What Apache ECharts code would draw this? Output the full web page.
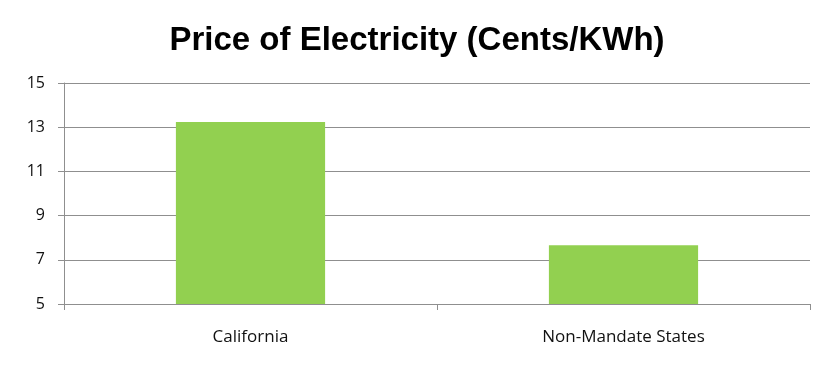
<!DOCTYPE html>
<html>
<head>
<meta charset="utf-8">
<script src="https://cdn.jsdelivr.net/npm/echarts@6/dist/echarts.min.js"></script>
<style>
html,body{margin:0;padding:0;background:#fff;}
#chart{width:836px;height:372px;}
</style>
</head>
<body>
<div id="chart"></div>
<script>
const categories = ['California', 'Non-Mandate States'];
const prices = [13.23, 7.66];
const yTicks = [5, 7, 9, 11, 13, 15];
const titleText = 'Price of Electricity (Cents/KWh)';

const yMin = yTicks[0];
const yMax = yTicks[yTicks.length - 1];
const yStep = yTicks[1] - yTicks[0];
const gridColor = '#8f8f8f';
const labelFont = '"Open Sans", "Noto Sans", sans-serif';

const chart = echarts.init(document.getElementById('chart'));
chart.setOption({
  animation: false,
  backgroundColor: '#ffffff',
  title: {
    text: titleText,
    left: 412,
    top: 19,
    textAlign: 'center',
    textStyle: {
      fontFamily: '"Liberation Sans", Arial, sans-serif',
      fontWeight: 'bold',
      fontSize: 33,
      color: '#000000'
    }
  },
  grid: { left: 64, right: 26, top: 83, bottom: 68, containLabel: false },
  xAxis: {
    type: 'category',
    data: categories,
    boundaryGap: true,
    axisLine: { show: true, lineStyle: { color: gridColor, width: 1 } },
    axisTick: { show: true, alignWithLabel: false, length: 6, lineStyle: { color: gridColor } },
    axisLabel: { color: '#111111', fontSize: 17, fontFamily: labelFont, margin: 25 },
    splitLine: { show: false }
  },
  yAxis: [
    {
      type: 'value',
      min: yMin,
      max: yMax,
      show: false,
      splitLine: { show: false }
    },
    {
      type: 'value',
      position: 'left',
      min: 0,
      max: yMax - yMin,
      interval: yStep,
      axisLine: { show: true, lineStyle: { color: gridColor, width: 1 } },
      axisTick: { show: true, length: 6, inside: false, lineStyle: { color: gridColor } },
      axisLabel: {
        color: '#111111',
        fontSize: 16,
        fontFamily: labelFont,
        margin: 19,
        formatter: function (v) { return String(v + yMin); }
      },
      splitLine: { show: true, lineStyle: { color: gridColor, width: 1 } }
    }
  ],
  series: [
    {
      type: 'bar',
      yAxisIndex: 0,
      data: prices,
      barWidth: '40%',
      itemStyle: { color: '#92d050' }
    }
  ]
});
</script>
</body>
</html>
